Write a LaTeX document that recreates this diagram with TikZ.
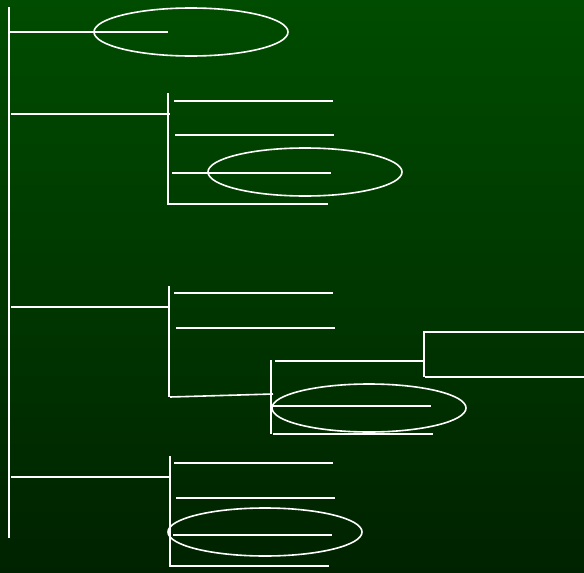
\documentclass[tikz,border=0pt]{standalone}
\usetikzlibrary{shapes.geometric}
\definecolor{bgtop}{RGB}{0,76,0}
\definecolor{bgbot}{RGB}{0,34,0}
\begin{document}
\begin{tikzpicture}[x=1pt,y=-1pt,
  wl/.style={draw=white,line width=1.6pt},
  ring/.style={draw=white,line width=1.6pt,ellipse,minimum width=194pt,minimum height=48pt,inner sep=0pt}]
\shade[top color=bgtop,bottom color=bgbot] (0,0) rectangle (584,573);
\useasboundingbox (0,0) rectangle (584,573);
% trunk
\draw[wl] (9,7) -- (9,538);
% branch 1
\draw[wl] (10,32) -- (168,32);
\node[ring] (e1) at (191,32) {};
% branch 2
\draw[wl] (11,114) -- (170,114);
\draw[wl] (168,93) -- (168,205);
\draw[wl] (174,101) -- (333,101);
\draw[wl] (175,135) -- (334,135);
\draw[wl] (172,173) -- (331,173);
\draw[wl] (169,204) -- (328,204);
\node[ring] (e2) at (305,172) {};
% branch 3
\draw[wl] (11,307) -- (170,307);
\draw[wl] (169,286) -- (169,397);
\draw[wl] (174,293) -- (333,293);
\draw[wl] (176,328) -- (335,328);
\draw[wl] (170,397) -- (273,394);
\draw[wl] (271,360) -- (271,434);
\draw[wl] (275,361) -- (424,361);
\draw[wl] (424,331) -- (424,377);
\draw[wl] (425,332) -- (584,332);
\draw[wl] (425,377) -- (584,377);
\draw[wl] (272,406) -- (431,406);
\draw[wl] (273,434) -- (433,434);
\node[ring] (e3) at (369,408) {};
% branch 4
\draw[wl] (11,477) -- (170,477);
\draw[wl] (170,456) -- (170,567);
\draw[wl] (174,463) -- (333,463);
\draw[wl] (176,498) -- (335,498);
\draw[wl] (173,535) -- (332,535);
\draw[wl] (169,566) -- (329,566);
\node[ring] (e4) at (265,532) {};
\end{tikzpicture}
\end{document}
